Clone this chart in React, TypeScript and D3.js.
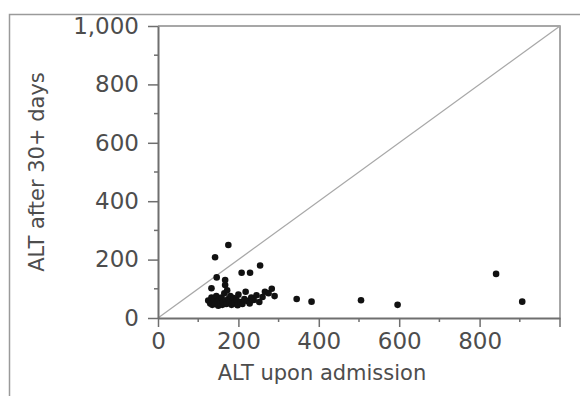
import React, { useEffect, useRef } from "react";
import * as d3 from "d3";

// ALT upon admission (x) vs ALT after 30+ days (y)
const admissionALT = [
  125, 130, 133, 135, 138, 140, 142, 145, 148, 150, 152, 155, 158, 160, 162, 165, 168, 170, 172, 175,
  178, 180, 183, 185, 188, 190, 195, 198, 200, 205, 210, 215, 218, 222, 228, 232, 238, 245, 252, 260,
  266, 275, 283, 290,
  142, 175, 254, 208, 229, 146, 167, 167, 133, 345, 382, 505, 596, 841, 906,
];
const laterALT = [
  60, 50, 70, 45, 55, 65, 48, 75, 58, 42, 62, 50, 70, 45, 55, 85, 60, 48, 95, 65,
  52, 75, 45, 58, 68, 50, 62, 44, 80, 55, 48, 65, 90, 58, 50, 70, 62, 78, 55, 72,
  90, 85, 100, 75,
  208, 250, 180, 155, 155, 139, 130, 113, 102, 65, 56, 61, 45, 151, 56,
];
const xTicks = [0, 200, 400, 600, 800];
const yTicks = [0, 200, 400, 600, 800, 1000];
const minorTicks = [100, 300, 500, 700, 900];

export default function App() {
  const ref = useRef<HTMLDivElement>(null);

  useEffect(() => {
    document.body.style.margin = "0";
    const container = d3.select(ref.current);
    container.selectAll("*").remove();
    const width = 580;
    const height = 396;
    const svg = container.append("svg").attr("width", width).attr("height", height)
      .style("display", "block").style("background", "#fff");

    const left = 158, right = 560, top = 26, bottom = 318;
    const x = d3.scaleLinear().domain([0, 1000]).range([left, right]);
    const y = d3.scaleLinear().domain([0, 1000]).range([bottom, top]);
    const axisColor = "#6f6f6f";
    const textColor = "#4d4d4d";
    const font = "'DejaVu Sans', Verdana, sans-serif";

    // outer frame
    svg.append("rect").attr("x", 9.5).attr("y", 14.5).attr("width", 600).attr("height", 420)
      .attr("fill", "none").attr("stroke", "#9a9a9a").attr("stroke-width", 1.5);

    // plot box top/right
    svg.append("path")
      .attr("d", `M${left},${top}H${right}V${bottom}`)
      .attr("fill", "none").attr("stroke", "#8a8a8a").attr("stroke-width", 1.5);

    // y = x reference line
    svg.append("line")
      .attr("x1", x(0)).attr("y1", y(0)).attr("x2", x(1000)).attr("y2", y(1000))
      .attr("stroke", "#a8a8a8").attr("stroke-width", 1.3);

    // axes
    const gx = svg.append("g").attr("transform", `translate(0,${bottom})`)
      .call(d3.axisBottom(x).tickValues(xTicks).tickSize(9).tickPadding(6).tickSizeOuter(0));
    gx.append("g").selectAll("line").data(minorTicks).join("line")
      .attr("x1", (d) => x(d)).attr("x2", (d) => x(d)).attr("y1", 0).attr("y2", 4)
      .attr("stroke", axisColor).attr("stroke-width", 1.5);
    gx.append("line").attr("x1", x(1000)).attr("x2", x(1000)).attr("y1", 0).attr("y2", 9)
      .attr("stroke", axisColor).attr("stroke-width", 1.5);

    const gy = svg.append("g").attr("transform", `translate(${left},0)`)
      .call(d3.axisLeft(y).tickValues(yTicks).tickSize(10).tickPadding(9).tickSizeOuter(0)
        .tickFormat(d3.format(",")));
    gy.append("g").selectAll("line").data(minorTicks).join("line")
      .attr("x1", 0).attr("x2", -4).attr("y1", (d) => y(d)).attr("y2", (d) => y(d))
      .attr("stroke", axisColor).attr("stroke-width", 1.5);

    [gx, gy].forEach((g) => {
      g.select(".domain").attr("stroke", axisColor).attr("stroke-width", 2);
      g.selectAll(".tick line").attr("stroke", axisColor).attr("stroke-width", 1.5);
      g.selectAll(".tick text").attr("fill", textColor).style("font-family", font).style("font-size", "23px");
    });

    // points
    const pts = admissionALT.map((v, i) => ({ a: v, b: laterALT[i] }));
    svg.append("g").selectAll("circle").data(pts).join("circle")
      .attr("cx", (d) => x(d.a)).attr("cy", (d) => y(d.b)).attr("r", 3.3)
      .attr("fill", "#111");

    // titles
    svg.append("text").attr("x", 322).attr("y", 380).attr("text-anchor", "middle")
      .attr("fill", textColor).style("font-family", font).style("font-size", "21px")
      .text("ALT upon admission");
    svg.append("text").attr("transform", `translate(44,${(top + bottom) / 2}) rotate(-90)`)
      .attr("text-anchor", "middle").attr("fill", textColor)
      .style("font-family", font).style("font-size", "21px")
      .text("ALT after 30+ days");
  }, []);

  return <div ref={ref} style={{ width: 580 }}></div>;
}
